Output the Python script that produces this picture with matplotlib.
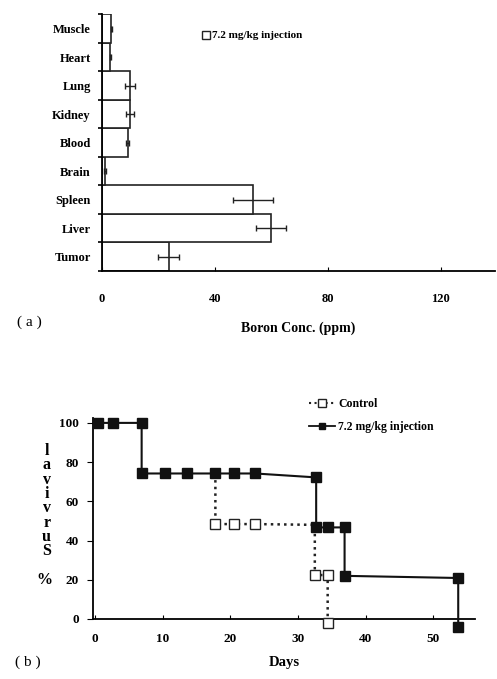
import numpy as np
import matplotlib
matplotlib.use("Agg")
from matplotlib import pyplot as plt
from matplotlib.lines import Line2D

plt.rcParams['font.family'] = ['Liberation Serif', 'DejaVu Serif']

# (a) boron distribution, bottom to top
organs = ['Tumor', 'Liver', 'Spleen', 'Brain', 'Blood', 'Kidney', 'Lung', 'Heart', 'Muscle']
boron = [23.6, 60.0, 53.5, 1.0, 9.2, 10.0, 9.9, 3.0, 3.4]
boron_err = [3.8, 5.3, 7.2, 0.3, 0.5, 1.5, 1.7, 0.3, 0.3]
boron_ticks = [0, 40, 80, 120]

# (b) survival
days_ctrl = [17.8, 17.8, 20.6, 23.7, 32.5, 32.5, 34.4, 34.4]
surv_ctrl = [74.2, 48.4, 48.4, 48.4, 48.0, 22.4, 22.4, -2.2]
mark_ctrl = [False, True, True, True, False, True, True, True]

days_trt = [0.4, 2.6, 6.9, 6.9, 10.4, 13.6, 17.8, 20.6, 23.7, 32.7, 32.7, 34.4, 36.9, 36.9, 53.7, 53.7]
surv_trt = [100, 100, 100, 74.2, 74.2, 74.2, 74.2, 74.2, 74.2, 72.2, 46.7, 46.7, 46.7, 22.0, 20.9, -4.2]
days_ticks = [0, 10, 20, 30, 40, 50]
surv_ticks = [0, 20, 40, 60, 80, 100]

fig = plt.figure(figsize=(4.97, 6.79), dpi=100)

# ---- panel (a)
ax1 = fig.add_axes([0.205, 0.601, 0.79, 0.378])
y = np.arange(len(organs))
ax1.barh(y, boron, height=1.0, color='white', edgecolor='#222222', linewidth=1.2)
ax1.errorbar(boron, y, xerr=boron_err, fmt='none', ecolor='#222222',
             elinewidth=1.0, capsize=2.5)
ax1.set_xlim(0, 139)
ax1.set_ylim(-0.5, len(organs) - 0.5)
ax1.set_yticks(y)
ax1.set_yticklabels(organs, fontsize=9, fontweight='bold')
ax1.set_yticks(np.arange(len(organs) + 1) - 0.5, minor=True)
ax1.tick_params(axis='y', which='major', length=0, pad=8)
ax1.tick_params(axis='y', which='minor', length=3, width=1.2, direction='out')
ax1.set_xticks(boron_ticks)
ax1.set_xticklabels([str(t) for t in boron_ticks], fontsize=9, fontweight='bold')
ax1.tick_params(axis='x', direction='in', length=3, pad=16)
for s in ['top', 'right']:
    ax1.spines[s].set_visible(False)
for s in ['left', 'bottom']:
    ax1.spines[s].set_linewidth(1.3)
ax1.set_xlabel('Boron Conc. (ppm)', fontsize=10, fontweight='bold', labelpad=12)
h1 = Line2D([], [], ls='none', marker='s', mfc='white', mec='#222222', ms=6)
ax1.legend([h1], ['7.2 mg/kg injection'], loc='upper left', bbox_to_anchor=(0.23, 0.975),
           frameon=False, handlelength=0.6, handletextpad=0.3,
           prop={'size': 8, 'weight': 'bold'})
fig.text(0.035, 0.52, '( a )', fontsize=11)

# ---- panel (b)
ax2 = fig.add_axes([0.187, 0.0884, 0.769, 0.296])
ax2.plot(days_ctrl, surv_ctrl, ls=':', lw=1.8, color='#222222', zorder=2)
ax2.plot([d for d, m in zip(days_ctrl, mark_ctrl) if m],
         [s for s, m in zip(surv_ctrl, mark_ctrl) if m],
         ls='none', marker='s', ms=7, mfc='white', mec='#222222', mew=1.0,
         clip_on=False, zorder=3)
ax2.plot(days_trt, surv_trt, ls='-', lw=1.5, color='#111111', marker='s', ms=7,
         mfc='#111111', mec='#111111', clip_on=False, zorder=4)
ax2.set_xlim(-0.3, 56.2)
ax2.set_ylim(0, 102.5)
ax2.set_xticks(days_ticks)
ax2.set_xticklabels([str(t) for t in days_ticks], fontsize=9.5, fontweight='bold')
ax2.set_yticks(surv_ticks)
ax2.set_yticklabels([str(t) for t in surv_ticks], fontsize=9.5, fontweight='bold')
ax2.tick_params(axis='x', direction='in', length=3, pad=10)
ax2.tick_params(axis='y', direction='out', length=4, pad=6)
for s in ['top', 'right']:
    ax2.spines[s].set_visible(False)
for s in ['left', 'bottom']:
    ax2.spines[s].set_linewidth(1.3)
ax2.set_xlabel('Days', fontsize=10.5, fontweight='bold', labelpad=8)
fig.text(0.094, 0.262, '\n'.join(reversed('Survival')), fontsize=11.5, fontweight='bold',
         ha='center', va='center', linespacing=0.86)
fig.text(0.09, 0.146, '%', fontsize=11.5, fontweight='bold', ha='center', va='center')

hc = Line2D([], [], ls=':', lw=1.5, color='#222222', marker='s', mfc='white', mec='#222222', ms=6)
ht = Line2D([], [], ls='-', lw=1.3, color='#111111', marker='s', mfc='#111111', mec='#111111', ms=5)
fig.legend([hc, ht], ['Control', '7.2 mg/kg injection'], loc='upper left',
           bbox_to_anchor=(0.6, 0.43), frameon=False, handlelength=2.2,
           handletextpad=0.3, labelspacing=0.95, prop={'size': 8.5, 'weight': 'bold'})
fig.text(0.03, 0.02, '( b )', fontsize=11)

fig.savefig('out.png', dpi=100)
